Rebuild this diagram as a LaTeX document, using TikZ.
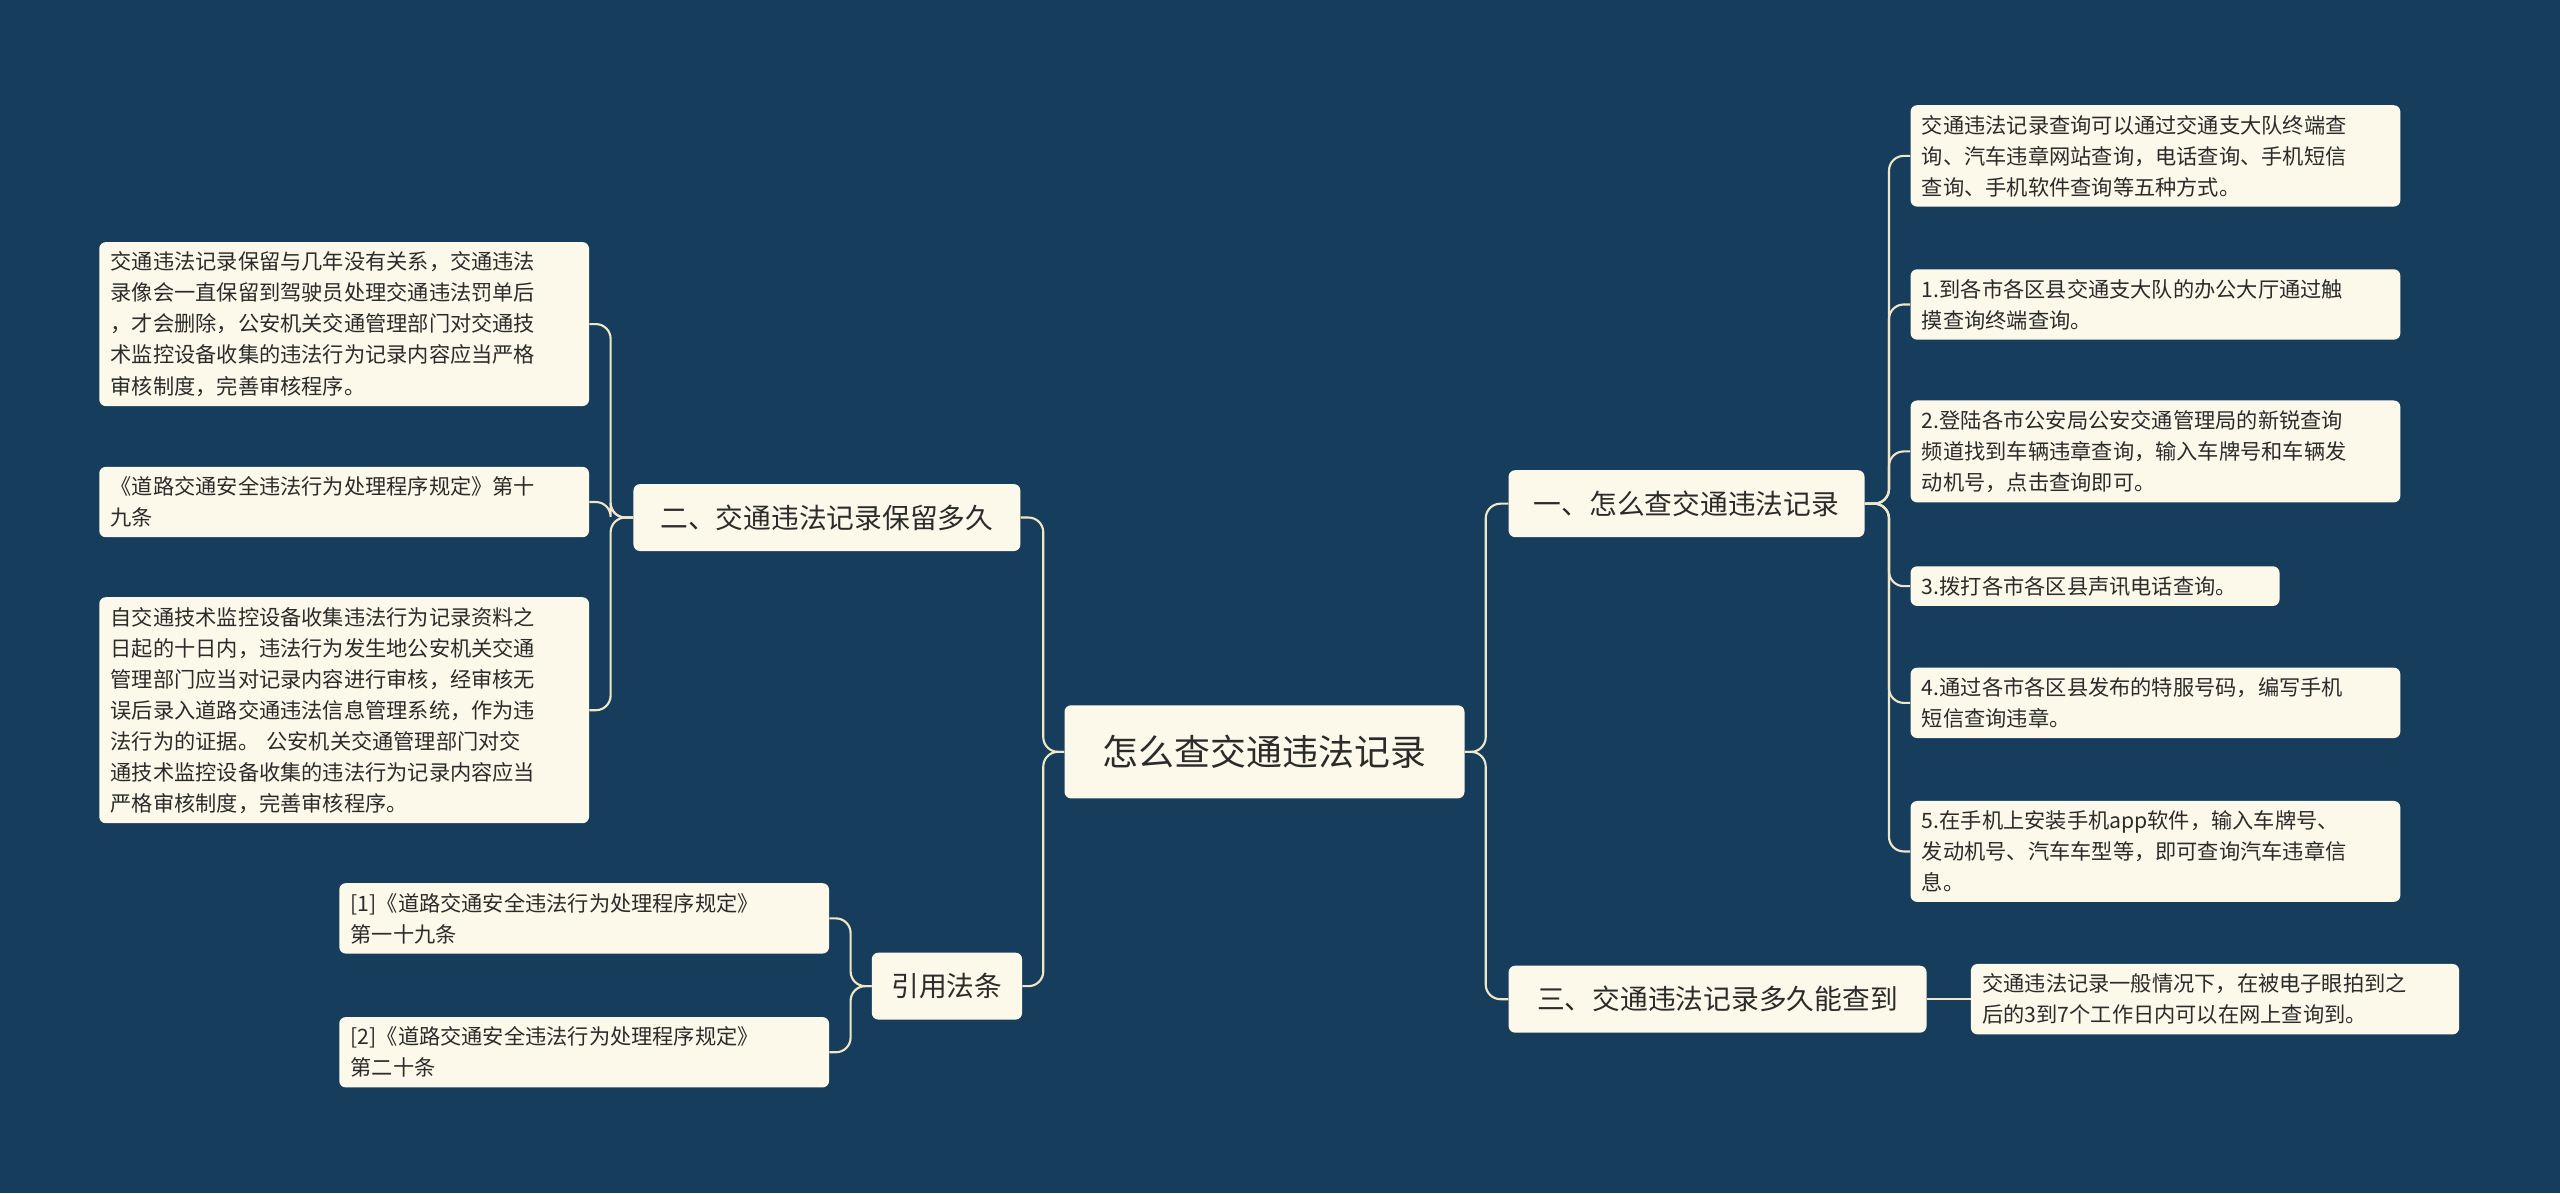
\documentclass[tikz,border=0pt]{standalone}
\usepackage{fontspec}
\setmainfont{Noto Sans CJK SC}
\begin{document}
\begin{tikzpicture}[x=1pt,y=-1pt,
  box/.style={fill=cardc,rounded corners=4pt,inner sep=0pt,text=txtc},
  leaf/.style={box,font=\fontsize{13}{19}\selectfont,align=left,anchor=west,inner xsep=7pt,inner ysep=6pt},
  mid/.style={box,font=\fontsize{17}{20}\selectfont,inner xsep=8pt,minimum height=41pt},
  link/.style={draw=linec,line width=1.3pt,rounded corners=9pt}]
\definecolor{bg}{HTML}{173D5D}
\definecolor{cardc}{HTML}{FDF9EA}
\definecolor{linec}{HTML}{EFE7C6}
\definecolor{txtc}{HTML}{2B2B2B}
\fill[bg] (0,0) rectangle (1568,731);
\useasboundingbox (0,0) rectangle (1568,731);
\node[box,font=\fontsize{22}{26}\selectfont,minimum width=245pt,minimum height=57pt] (root) at (774.5,460.5) {怎么查交通违法记录};
\node[mid,minimum width=218pt] (r1) at (1033,308.5) {一、怎么查交通违法记录};
\node[mid,minimum width=256pt] (r3) at (1052,612) {三、交通违法记录多久能查到};
\node[mid,minimum width=237pt] (l2) at (506.5,317) {二、交通违法记录保留多久};
\node[mid,minimum width=92pt] (lq) at (580,604) {引用法条};
\node[leaf,text width=286pt] (a1) at (1170,95.5) {交通违法记录查询可以通过交通支大队终端查\\询、汽车违章网站查询，电话查询、手机短信\\查询、手机软件查询等五种方式。};
\node[leaf,text width=286pt] (a2) at (1170,186.5) {1.到各市各区县交通支大队的办公大厅通过触\\摸查询终端查询。};
\node[leaf,text width=286pt] (a3) at (1170,276.5) {2.登陆各市公安局公安交通管理局的新锐查询\\频道找到车辆违章查询，输入车牌号和车辆发\\动机号，点击查询即可。};
\node[leaf,text width=212pt] (a4) at (1170,359) {3.拨打各市各区县声讯电话查询。};
\node[leaf,text width=286pt] (a5) at (1170,430.5) {4.通过各市各区县发布的特服号码，编写手机\\短信查询违章。};
\node[leaf,text width=286pt] (a6) at (1170,521.5) {5.在手机上安装手机app软件，输入车牌号、\\发动机号、汽车车型等，即可查询汽车违章信\\息。};
\node[leaf,text width=285pt] (b1) at (1207,612) {交通违法记录一般情况下，在被电子眼拍到之\\后的3到7个工作日内可以在网上查询到。};
\node[leaf,text width=286pt,anchor=east] (c1) at (361,198.5) {交通违法记录保留与几年没有关系，交通违法\\录像会一直保留到驾驶员处理交通违法罚单后\\，才会删除，公安机关交通管理部门对交通技\\术监控设备收集的违法行为记录内容应当严格\\审核制度，完善审核程序。};
\node[leaf,text width=286pt,anchor=east] (c2) at (361,307.5) {《道路交通安全违法行为处理程序规定》第十\\九条};
\node[leaf,text width=286pt,anchor=east] (c3) at (361,435) {自交通技术监控设备收集违法行为记录资料之\\日起的十日内，违法行为发生地公安机关交通\\管理部门应当对记录内容进行审核，经审核无\\误后录入道路交通违法信息管理系统，作为违\\法行为的证据。 公安机关交通管理部门对交\\通技术监控设备收集的违法行为记录内容应当\\严格审核制度，完善审核程序。};
\node[leaf,text width=286pt,anchor=east] (d1) at (508,562.5) {[1]《道路交通安全违法行为处理程序规定》\\第一十九条};
\node[leaf,text width=286pt,anchor=east] (d2) at (508,644.5) {[2]《道路交通安全违法行为处理程序规定》\\第二十条};
\coordinate (jr) at (910,460.5);
\coordinate (jl) at (639,460.5);
\coordinate (j1) at (1157,308.5);
\coordinate (j2) at (374,317);
\coordinate (jq) at (521,604);
\begin{scope}[on background layer/.style={}]
\foreach \c in {r1,r3} \draw[link] (root.east) -- (jr) |- (\c.west);
\foreach \c in {l2,lq} \draw[link] (root.west) -- (jl) |- (\c.east);
\foreach \c in {a1,a2,a3,a4,a5,a6} \draw[link] (r1.east) -- (j1) |- (\c.west);
\draw[link] (r3.east) -- (b1.west);
\foreach \c in {c1,c2,c3} \draw[link] (l2.west) -- (j2) |- (\c.east);
\foreach \c in {d1,d2} \draw[link] (lq.west) -- (jq) |- (\c.east);
\end{scope}
\end{tikzpicture}
\end{document}
